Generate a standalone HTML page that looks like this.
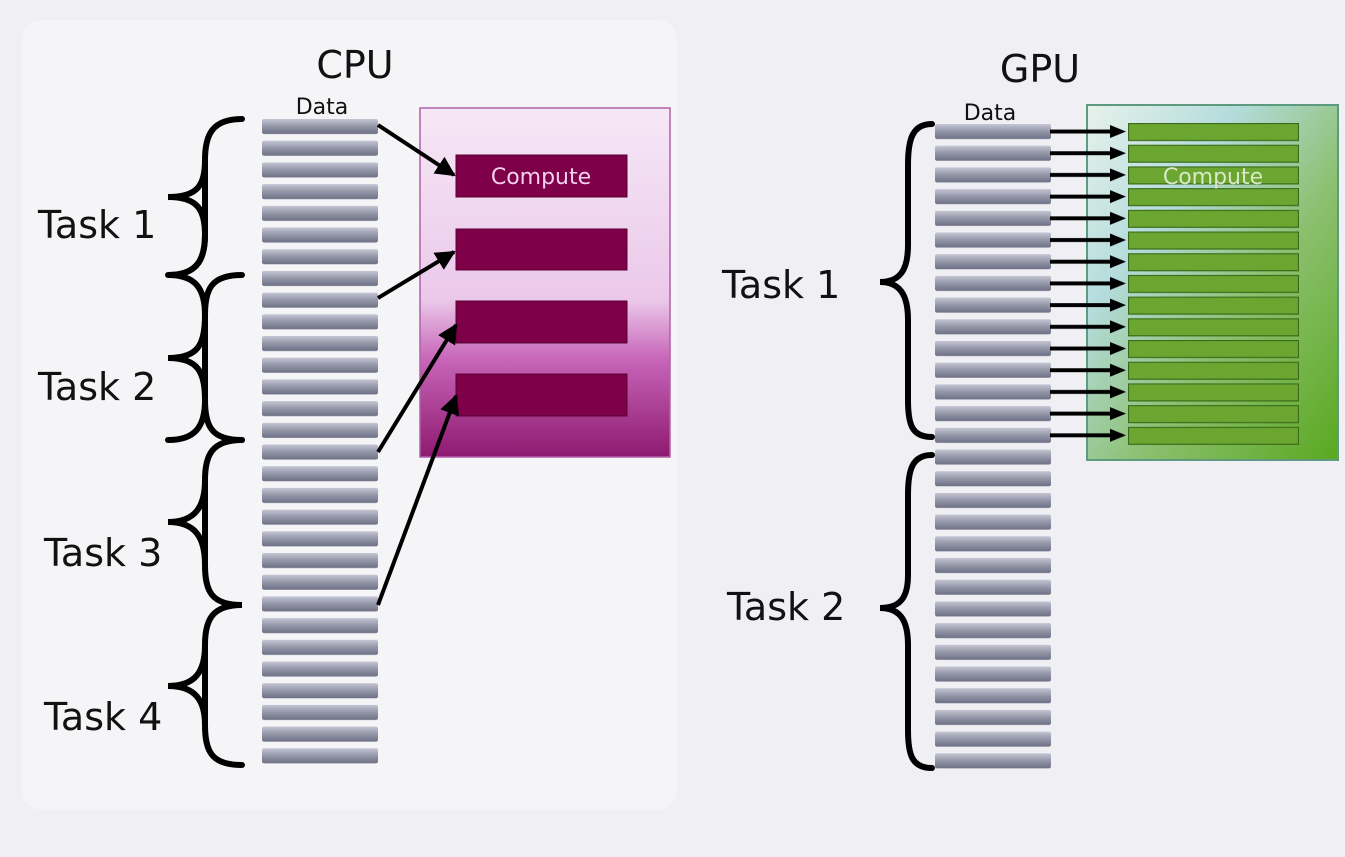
<!DOCTYPE html>
<html><head><meta charset="utf-8"><style>
html,body{margin:0;padding:0;background:#f0f0f4;}
svg{display:block}
text{font-family:"DejaVu Sans","Liberation Sans",sans-serif;}
</style></head><body>
<svg width="1345" height="857" viewBox="0 0 1345 857" xmlns="http://www.w3.org/2000/svg">
<defs>
<linearGradient id="bar" x1="0" y1="0" x2="0" y2="1">
<stop offset="0" stop-color="#c4c6d4"/><stop offset="0.5" stop-color="#9496a8"/><stop offset="1" stop-color="#6e7085"/>
</linearGradient>
<pattern id="cpubars" x="262" y="119" width="116" height="21.7" patternUnits="userSpaceOnUse">
<rect x="0" y="0" width="116" height="15" rx="2" fill="url(#bar)"/>
</pattern>
<pattern id="gpubars" x="935" y="124" width="116" height="21.7" patternUnits="userSpaceOnUse">
<rect x="0" y="0" width="116" height="15" rx="2" fill="url(#bar)"/>
</pattern>
<pattern id="greens" x="1128" y="123" width="171" height="21.7" patternUnits="userSpaceOnUse">
<rect x="0.5" y="0.5" width="170" height="17" fill="#6aa630" stroke="#3c6a1a" stroke-width="1.2"/>
</pattern>
<pattern id="arrows" x="1050" y="124" width="80" height="21.7" patternUnits="userSpaceOnUse">
<line x1="0" y1="7.5" x2="62" y2="7.5" stroke="#000" stroke-width="4"/>
<polygon points="60,1 76,7.5 60,14" fill="#000"/>
</pattern>
<linearGradient id="purp" x1="0" y1="0" x2="0" y2="1">
<stop offset="0" stop-color="#f6e8f6"/><stop offset="0.55" stop-color="#ebc8ea"/><stop offset="0.72" stop-color="#c765b8"/><stop offset="1" stop-color="#8e1a70"/>
</linearGradient>
<linearGradient id="grn" x1="0" y1="0" x2="1" y2="1">
<stop offset="0" stop-color="#e8f2ec"/><stop offset="0.3" stop-color="#b4dcdc"/><stop offset="0.6" stop-color="#8cc070"/><stop offset="1" stop-color="#5aa820"/>
</linearGradient>
<marker id="ah" viewBox="0 0 10 10" refX="9" refY="5" markerWidth="5" markerHeight="5" orient="auto"><path d="M0,0 L10,5 L0,10 z" fill="#000"/></marker>
</defs>
<rect x="22" y="20" width="655" height="790" rx="20" fill="#f5f5f8"/>

<!-- CPU -->
<text x="355" y="78" font-size="38" text-anchor="middle" fill="#111">CPU</text>
<text x="322" y="114" font-size="22" text-anchor="middle" fill="#111">Data</text>
<rect x="420" y="108" width="250" height="349" fill="url(#purp)" stroke="#b060a8" stroke-width="1.5"/>
<rect x="456" y="155" width="171" height="42" fill="#7e0049" stroke="#5a0034"/>
<rect x="456" y="229" width="171" height="41" fill="#7e0049" stroke="#5a0034"/>
<rect x="456" y="301" width="171" height="42" fill="#7e0049" stroke="#5a0034"/>
<rect x="456" y="374" width="171" height="42" fill="#7e0049" stroke="#5a0034"/>
<text x="541" y="184" font-size="22" text-anchor="middle" fill="#f4d0ee">Compute</text>
<rect x="262" y="119" width="116" height="650" fill="url(#cpubars)"/>
<g stroke="#000" stroke-width="4" fill="none" marker-end="url(#ah)">
<line x1="378" y1="125" x2="454" y2="175"/>
<line x1="378" y1="298" x2="454" y2="252"/>
<line x1="378" y1="452" x2="456" y2="325"/>
<line x1="378" y1="605" x2="456" y2="396"/>
</g>
<g stroke="#000" stroke-width="6" fill="none" stroke-linecap="round">
<path d="M242,119 C212,119 205,135 205,160 L205,235 C205,262 195,275 168,275 C195,275 205,288 205,315 L205,400 C205,427 212,440 242,440"/>
<path d="M242,275 C212,275 205,288 205,315"/>
<path d="M242,440 C212,440 205,455 205,480 L205,565 C205,592 212,605 242,605 C212,605 205,620 205,645 L205,725 C205,752 212,765 242,765"/>
<path d="M205,400 C205,425 195,440 168,440" stroke="none"/>
</g>
<g stroke="#000" stroke-width="6" fill="none" stroke-linecap="round">
<path d="M205,235 C205,262 195,275 168,275"/>
<path d="M205,400 C205,427 195,440 168,440"/>
<path d="M205,480 C205,507 195,522 168,522 C195,522 205,537 205,565"/>
<path d="M205,645 C205,672 195,686 168,686 C195,686 205,700 205,725"/>
<path d="M205,160 C205,185 195,197 168,197 C195,197 205,210 205,235" stroke="none"/>
<path d="M205,160 L205,180 C205,192 195,197 168,197" stroke="none"/>
</g>
<g stroke="#000" stroke-width="6" fill="none" stroke-linecap="round">
<path d="M205,160 C205,185 198,197 168,197 C198,197 205,210 205,235"/>
<path d="M205,315 C205,345 198,358 168,358 C198,358 205,372 205,400"/>
</g>
<text x="38" y="238" font-size="38" fill="#111">Task 1</text>
<text x="38" y="400" font-size="38" fill="#111">Task 2</text>
<text x="44" y="566" font-size="38" fill="#111">Task 3</text>
<text x="44" y="730" font-size="38" fill="#111">Task 4</text>

<!-- GPU -->
<text x="1040" y="82" font-size="38" text-anchor="middle" fill="#111">GPU</text>
<text x="990" y="120" font-size="22" text-anchor="middle" fill="#111">Data</text>
<rect x="1087" y="105" width="251" height="355" fill="url(#grn)" stroke="#5e9a80" stroke-width="2"/>
<rect x="1128" y="123" width="171" height="325" fill="url(#greens)"/>
<text x="1213" y="184" font-size="22" text-anchor="middle" fill="#d8e8c8">Compute</text>
<rect x="935" y="124" width="116" height="650" fill="url(#gpubars)"/>
<rect x="1050" y="124" width="80" height="325" fill="url(#arrows)"/>
<g stroke="#000" stroke-width="6" fill="none" stroke-linecap="round">
<path d="M932,124 C912,124 908,140 908,165 L908,245 C908,270 900,282 880,282 C900,282 908,295 908,320 L908,400 C908,425 912,437 932,437"/>
<path d="M932,455 C912,455 908,470 908,495 L908,575 C908,598 900,608 880,608 C900,608 908,620 908,645 L908,730 C908,755 912,768 932,768"/>
</g>
<text x="722" y="298" font-size="38" fill="#111">Task 1</text>
<text x="727" y="620" font-size="38" fill="#111">Task 2</text>
</svg>
</body></html>
